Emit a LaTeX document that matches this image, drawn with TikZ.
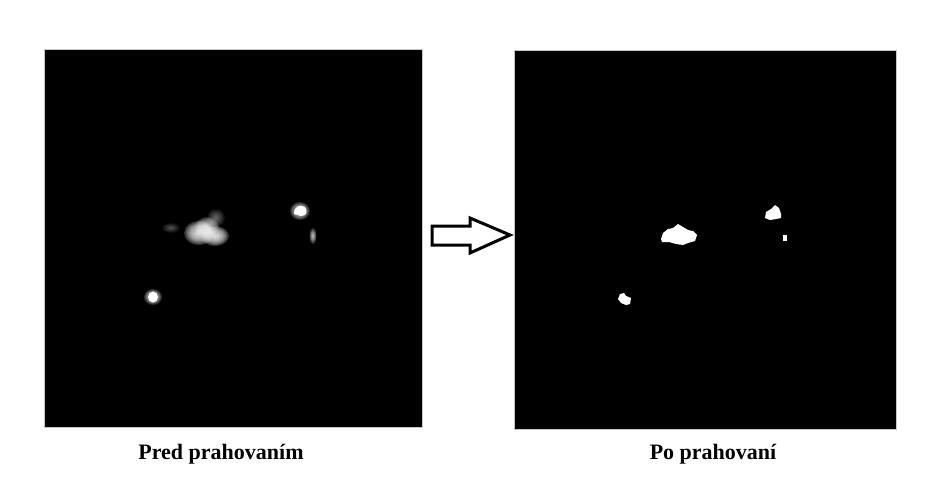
\documentclass[tikz,border=0pt]{standalone}
\usepackage{fontspec}
\setmainfont{Liberation Serif}
\usetikzlibrary{positioning,calc}
\tikzset{
  frame/.style  ={draw=gray!45, line width=0.6pt, fill=black, inner sep=0pt},
  lbl/.style    ={font=\fontsize{22}{26}\selectfont\bfseries, inner sep=0pt, anchor=base},
  blob/.style   ={fill=white, draw=none},
  arr/.style    ={draw=black, line width=3pt, fill=white, line join=miter},
}
% soft spot: centre, radii, strength of each ring
\newcommand{\glowspot}[5]{%
  \foreach \k in {1,...,10}
    \fill[white, opacity=#5] (#1,#2) ellipse ({#3*\k/10} and {#4*\k/10});}

\begin{document}
\begin{tikzpicture}[x=1pt, y=-1pt]
\useasboundingbox (0,0) rectangle (941,503);

% the two frames
\node[frame, minimum width=378pt, minimum height=378pt, anchor=north west] (before) at (44,49) {};
\node[frame, minimum width=382pt, minimum height=379pt, anchor=north west] (after) at (514,50) {};

% blurred spots, before thresholding
\glowspot{171}{228}{9}{5}{0.04}
\glowspot{216}{218}{9}{9}{0.05}
\glowspot{199}{233}{15}{12}{0.18}
\glowspot{215}{236}{14}{10}{0.18}
\glowspot{207}{227}{12}{10}{0.14}
\glowspot{300}{211}{10}{9}{0.15}
\fill[white] (294,214) .. controls (294,206) and (300,204) .. (305,207) .. controls (308,211) and (307,216) .. (301,216) -- cycle;
\glowspot{313}{236}{3.5}{8}{0.12}
\glowspot{153}{297}{9}{8}{0.15}
\fill[white] (153,297) ellipse (5pt and 5.5pt);

% binary spots, after thresholding
\fill[blob] (661,239) -- (663,233) -- (668,229) -- (673,228) -- (678,224) -- (683,227)
  -- (688,230) -- (693,231) -- (697,235) -- (695,241) -- (688,243) -- (683,245)
  -- (676,244) -- (669,242) -- (662,242) -- cycle;
\fill[blob] (765,218) -- (766,212) -- (771,209) -- (775,205) -- (779,208) -- (781,214)
  -- (781,218) -- (776,219) -- (770,220) -- cycle;
\fill[blob] (783,235) rectangle (787,241);
\fill[blob] (618,299) -- (620,294) -- (624,293) -- (626,296) -- (631,298) -- (630,304)
  -- (626,305) -- (621,303) -- cycle;

% arrow between frames
\draw[arr] (432,226) -- (470,226) -- (470,218) -- (510,235) -- (470,253) -- (470,245)
  -- (432,245) -- cycle;

% captions
\node[lbl] (lblbefore) at (221,459) {Pred prahovaním};
\node[lbl] (lblafter) at (713,459) {Po prahovaní};

\end{tikzpicture}
\end{document}
